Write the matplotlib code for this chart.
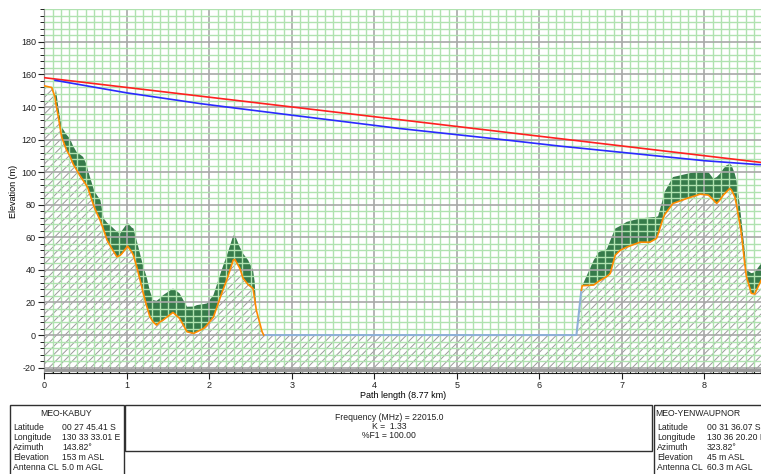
import numpy as np
import matplotlib.pyplot as plt
from matplotlib.ticker import MultipleLocator
from matplotlib.patches import Rectangle

plt.rcParams['font.family'] = ['Liberation Sans', 'DejaVu Sans']
plt.rcParams['hatch.linewidth'] = 0.7
plt.rcParams['axes.unicode_minus'] = False

# Perfil del terreno (km, m)
dist = [0.00, 0.09, 0.13, 0.14, 0.17, 0.21, 0.27, 0.31, 0.35, 0.39, 0.43, 0.47,
        0.51, 0.53, 0.59, 0.61, 0.68, 0.72, 0.76, 0.82, 0.88, 0.92, 0.94, 1.01,
        1.06, 1.08, 1.12, 1.16, 1.20, 1.24, 1.28, 1.32, 1.36, 1.40, 1.44, 1.56,
        1.64, 1.73, 1.81, 1.85, 1.93, 1.97, 2.05, 2.15, 2.22, 2.29, 2.31, 2.37,
        2.41, 2.47, 2.53, 2.55, 2.57, 2.64, 2.66, 6.45, 6.51, 6.52, 6.66, 6.72,
        6.78, 6.82, 6.86, 6.92, 6.98, 7.06, 7.22, 7.34, 7.42, 7.44, 7.50, 7.52,
        7.62, 7.79, 7.95, 8.05, 8.11, 8.15, 8.19, 8.23, 8.27, 8.31, 8.33, 8.37,
        8.39, 8.43, 8.45, 8.49, 8.51, 8.57, 8.61, 8.69, 8.77]
ground = [153, 152, 146, 142, 134, 121.7, 113.5, 110, 105, 101.5, 98, 95,
          92, 90, 80.8, 78, 70, 64.5, 58.3, 53, 48, 49, 50, 54.6,
          51, 49, 42, 34, 25.6, 18, 11.2, 8, 6.1, 8, 9.2, 13.9,
          10.2, 2, 1, 2, 4, 6, 11, 25.6, 35, 46, 46.4, 41,
          34.8, 31, 28.6, 22, 15.3, 2, 0, 0, 27.5, 30.3, 30.7, 33,
          34.8, 36, 37.8, 49, 52, 54, 57, 57, 59.3, 62, 71.6, 74,
          80.8, 83.9, 86.5, 85.9, 83, 80.8, 83, 85.9, 88, 90, 89, 84.8,
          80, 68.5, 62, 44, 36, 25.6, 25.2, 33.7, 45]
clutter_top = [153, 152, 146, 151, 140, 127.8, 123, 120.7, 116, 112.5, 111, 109.4,
               105, 101, 91, 88, 82.8, 71.6, 69, 66.4, 63.5, 62.4, 64, 69,
               66, 65.5, 58, 50, 42, 35.8, 27, 21.5, 21, 22.5, 24.5, 28.6,
               25.6, 17.4, 17.5, 18.4, 19, 19.4, 24.5, 40, 50, 61, 61.3, 54,
               50, 46, 40, 32.7, 15.3, 2, 0, 0, 27.5, 30.3, 46, 51,
               52, 53, 58, 65.4, 67, 69.5, 71.6, 72.2, 72.6, 73, 84, 88,
               97, 99, 100.8, 100, 96, 97, 99, 102, 104.3, 105, 104.3, 99,
               95, 80, 70.5, 52, 40, 38, 38.5, 44, 55]

# Línea de vista y zona de Fresnel
los_d = [0.0, 8.77]
los_h = [158, 105.5]
fres_d = [0.13, 1.0, 1.89, 2.37, 3.0, 4.31, 5.5, 6.25, 6.74, 8.01, 8.64, 8.77]
fres_h = [156.4, 148.7, 142.1, 139, 135, 126.8, 120.3, 116, 113.5, 107, 104.7, 104.5]

ymin, ymax = -23.3, 200

d = np.array(dist)
g = np.array(ground)
c = np.array(clutter_top)

fig = plt.figure(figsize=(7.61, 4.74), dpi=100)
ax = fig.add_axes([44.3 / 761, 1 - 373 / 474, 1 - 44.3 / 761, (373 - 9.3) / 474])

# Terreno rayado y vegetación
ax.fill_between(d, ymin, g, facecolor='white', hatch='////', edgecolor='#9a9a9a',
                linewidth=0, zorder=1)
ax.fill_between(d, g, c, facecolor='#367b4a', linewidth=0, zorder=1.2)

water = (d >= 2.66) & (d <= 6.51)
land1 = d <= 2.66
land2 = d >= 6.51
ax.plot(d[water], g[water], color='#8fb0d8', lw=1.5, zorder=3)
ax.plot(d[land1], g[land1], color='#ff8c00', lw=1.2, zorder=3)
ax.plot(d[land2], g[land2], color='#ff8c00', lw=1.2, zorder=3)

ax.plot(los_d, los_h, color='#ff2020', lw=1.2, zorder=4)
ax.plot(fres_d, fres_h, color='#2a2aff', lw=1.2, zorder=4)

ax.axhline(-21.3, color='#9a9a9a', lw=2.2, zorder=3)

ax.set_xlim(0, (761 - 44.3) / 82.5)
ax.set_ylim(ymin, ymax)
ax.xaxis.set_major_locator(MultipleLocator(1))
ax.xaxis.set_minor_locator(MultipleLocator(0.1))
ax.yaxis.set_major_locator(MultipleLocator(20))
ax.yaxis.set_minor_locator(MultipleLocator(4))
ax.set_yticks(np.arange(-20, 181, 20))

ax.set_axisbelow(False)
ax.grid(which='minor', color='#b0e2b0', lw=1.0, zorder=2.5)
ax.grid(which='major', color='#a8a8a8', lw=1.2, zorder=2.6)

ax.spines['top'].set_visible(False)
ax.spines['right'].set_visible(False)
ax.spines['left'].set_color('#202020')
ax.spines['bottom'].set_color('#202020')
ax.tick_params(axis='both', which='major', labelsize=6.5, colors='#202020',
               length=4, pad=2)
ax.tick_params(axis='y', which='minor', length=3, direction='out')
ax.tick_params(axis='x', which='minor', length=4, direction='in')

ax.set_xlabel('Path length (8.77 km)', fontsize=6.5, va='center')
ax.xaxis.set_label_coords(0.5, (373 - 396) / 363.7)
ax.set_ylabel('Elevation (m)', fontsize=6.5, va='center')
ax.yaxis.set_label_coords((14 - 44.3) / 716.7, 0.5)

# Cuadros de información
def px(x, y):
    return x / 761, 1 - y / 474

def box(x0, y0, x1, y1):
    fx, fy = px(x0, y1)
    fig.patches.append(Rectangle((fx, fy), (x1 - x0) / 761, (y1 - y0) / 474,
                                 transform=fig.transFigure, fill=False,
                                 edgecolor='#303030', lw=1.0))

def txt(x, y, s, ha='left'):
    fx, fy = px(x, y)
    fig.text(fx, fy, s, fontsize=6.2, ha=ha, va='center', color='#202020')

site_labels = ['Latitude', 'Longitude', 'Azimuth', 'Elevation', 'Antenna CL']
left_vals = ['00 27 45.41 S', '130 33 33.01 E', '143.82°', '153 m ASL', '5.0 m AGL']
right_vals = ['00 31 36.07 S', '130 36 20.20 E', '323.82°', '45 m ASL', '60.3 m AGL']
center_lines = ['Frequency (MHz) = 22015.0', 'K =  1.33', '%F1 = 100.00']

box(10, 405, 123.5, 480)
txt(66, 414, 'MEO-KABUY', ha='center')
for i, (lab, val) in enumerate(zip(site_labels, left_vals)):
    txt(13, 427 + i * 10.2, lab)
    txt(62, 427 + i * 10.2, val)

box(125, 405, 652, 451)
for i, s in enumerate(center_lines):
    txt(389, 417 + i * 9.5, s, ha='center')

box(654, 405, 770, 480)
txt(698, 414, 'MEO-YENWAUPNOR', ha='center')
for i, (lab, val) in enumerate(zip(site_labels, right_vals)):
    txt(657, 427 + i * 10.2, lab)
    txt(707, 427 + i * 10.2, val)

fig.savefig('out.png', dpi=100)
